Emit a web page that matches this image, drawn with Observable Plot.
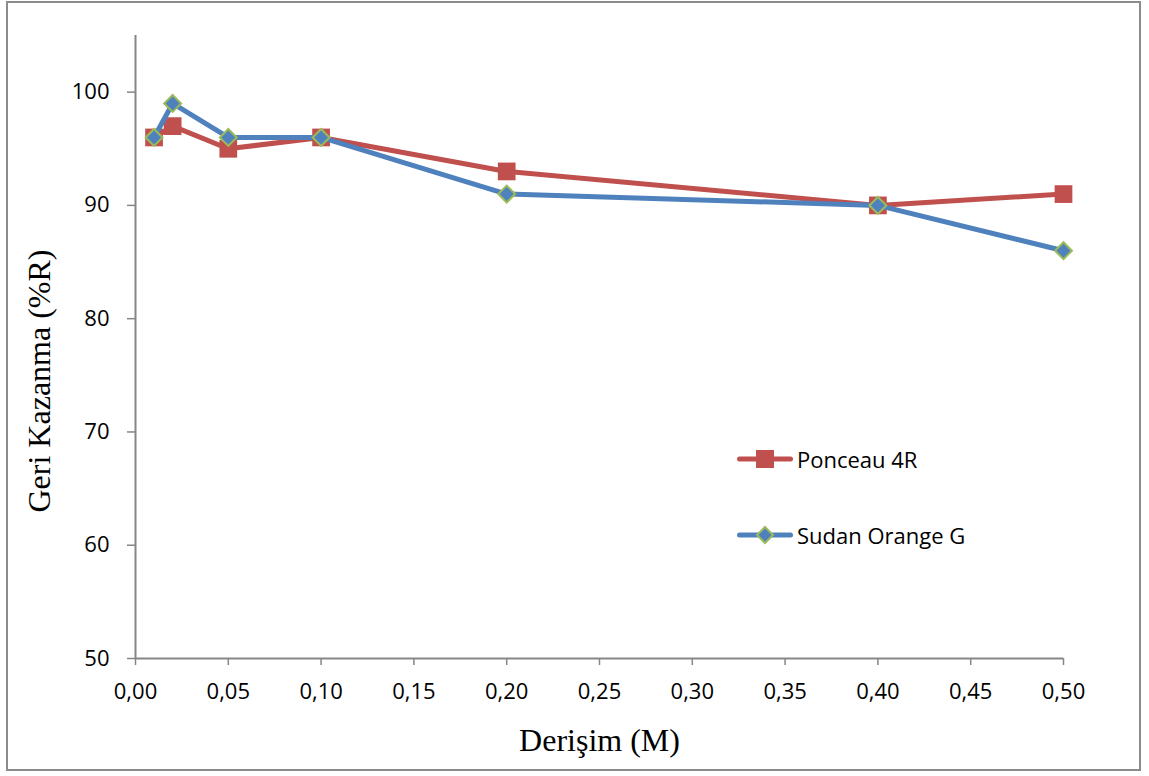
<!DOCTYPE html>
<html>
<head>
<meta charset="utf-8">
<script src="https://cdn.jsdelivr.net/npm/d3@7"></script>
<script src="https://cdn.jsdelivr.net/npm/@observablehq/plot@0.6"></script>
<style>
  html, body { margin: 0; padding: 0; background: #fff; }
  #wrap { position: relative; width: 1149px; height: 776px; }
  #border { position: absolute; left: 6px; top: 1px; width: 1131px; height: 766px; border: 2px solid #8c8c8c; pointer-events: none; }
  #legend { position: absolute; left: 737px; top: 444px; font-family: "Open Sans", sans-serif; font-size: 22px; color: #000; }
  .item { position: absolute; left: 0; display: flex; align-items: center; white-space: nowrap; }
  .item svg { display: block; }
  .item span { margin-left: 4px; }
</style>
</head>
<body>
<div id="wrap"><div id="chart"></div><div id="border"></div><div id="legend"></div></div>
<script>
const concentrations = [0.01, 0.02, 0.05, 0.10, 0.20, 0.40, 0.50];
const ponceau4R = [96, 97, 95, 96, 93, 90, 91];
const sudanOrangeG = [96, 99, 96, 96, 91, 90, 86];
const seriesNames = ["Ponceau 4R", "Sudan Orange G"];
const xTicks = [0, 0.05, 0.10, 0.15, 0.20, 0.25, 0.30, 0.35, 0.40, 0.45, 0.50];
const yTicks = [50, 60, 70, 80, 90, 100];
const xTitle = "Derişim (M)";
const yTitle = "Geri Kazanma (%R)";

const red = "#C0504D", blue = "#4F81BD", green = "#9BBB59", axisGray = "#868686";

const pData = concentrations.map((c, i) => ({x: c, y: ponceau4R[i]}));
const sData = concentrations.map((c, i) => ({x: c, y: sudanOrangeG[i]}));
const fmt = d => d3.format(".2f")(d).replace(".", ",");

const chart = Plot.plot({
  width: 1149,
  height: 776,
  marginLeft: 135,
  marginRight: 86,
  marginTop: 35,
  marginBottom: 118,
  style: {fontFamily: "'Open Sans', sans-serif", fontSize: "22px", color: "#000", background: "transparent"},
  x: {domain: [0, 0.5]},
  y: {domain: [50, 105]},
  marks: [
    Plot.axisX({ticks: xTicks, tickFormat: fmt, tickSize: 7, tickPadding: 18, stroke: axisGray, strokeWidth: 1.5, label: null, fontSize: 22}),
    Plot.axisY({ticks: yTicks, tickFormat: d => String(d), tickSize: 8, tickPadding: 18, stroke: axisGray, strokeWidth: 1.5, label: null, fontSize: 22}),
    Plot.ruleX([0], {stroke: axisGray, strokeWidth: 2}),
    Plot.ruleY([50], {stroke: axisGray, strokeWidth: 2}),
    Plot.line(pData, {x: "x", y: "y", stroke: red, strokeWidth: 5, strokeLinejoin: "round", strokeLinecap: "round"}),
    Plot.dot(pData, {x: "x", y: "y", symbol: "square", r: 10, fill: red, stroke: "none"}),
    Plot.line(sData, {x: "x", y: "y", stroke: blue, strokeWidth: 5, strokeLinejoin: "round", strokeLinecap: "round"}),
    Plot.dot(sData, {x: "x", y: "y", symbol: "diamond2", r: 7.6, fill: blue, stroke: green, strokeWidth: 2}),
    Plot.text([xTitle], {frameAnchor: "bottom", dy: 82, lineAnchor: "middle", textAnchor: "middle", fontFamily: "'Liberation Serif', 'Times New Roman', serif", fontSize: 32, fill: "#000"}),
    Plot.text([yTitle], {frameAnchor: "left", dx: -96, dy: 34, rotate: -90, lineAnchor: "middle", textAnchor: "middle", fontFamily: "'Liberation Serif', 'Times New Roman', serif", fontSize: 32, fill: "#000"})
  ]
});
document.getElementById("chart").appendChild(chart);

// Legend
const legend = document.getElementById("legend");
const legendStyles = [
  {color: red, symbol: "square"},
  {color: blue, symbol: "diamond"}
];
seriesNames.forEach((name, i) => {
  const item = document.createElement("div");
  item.className = "item";
  item.style.top = (i * 76) + "px";
  const st = legendStyles[i];
  const marker = st.symbol === "square"
    ? `<rect x="19" y="3" width="18" height="18" fill="${st.color}"/>`
    : `<path d="M28,4 L36,12 L28,20 L20,12 Z" fill="${st.color}" stroke="${green}" stroke-width="2"/>`;
  item.innerHTML = `<svg width="56" height="24"><line x1="2.5" y1="12" x2="53.5" y2="12" stroke="${st.color}" stroke-width="5" stroke-linecap="round"/>${marker}</svg><span>${name}</span>`;
  legend.appendChild(item);
});
</script>
</body>
</html>
